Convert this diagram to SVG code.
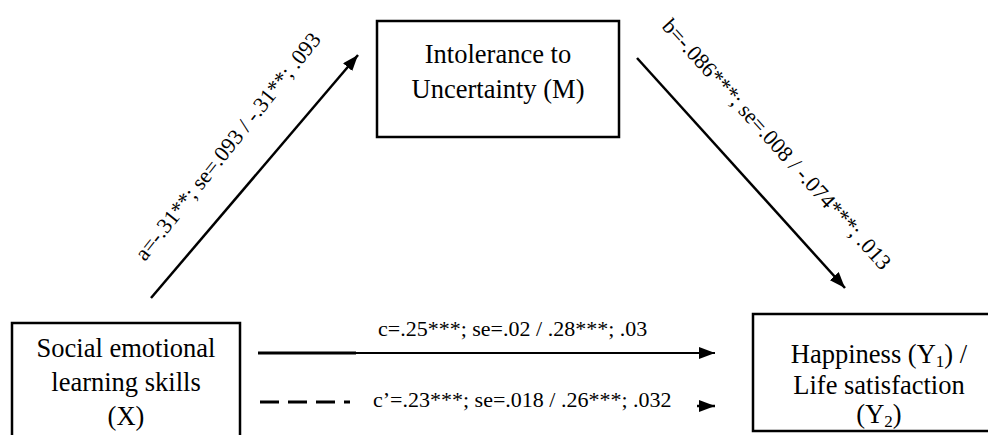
<svg xmlns="http://www.w3.org/2000/svg" width="988" height="435" viewBox="0 0 988 435">
<style>
.box{fill:#fff;stroke:#000;stroke-width:2.5}
.nt{font-family:"Liberation Serif","Times New Roman",serif;font-size:26.5px;fill:#000;text-anchor:middle}
.lb{font-family:"Liberation Serif","Times New Roman",serif;font-size:22px;fill:#000}
.ln{stroke:#000;fill:none}
</style>
<defs>
<marker id="ah" viewBox="0 0 16 12" refX="16" refY="6" markerWidth="16" markerHeight="12" markerUnits="userSpaceOnUse" orient="auto">
<path d="M0,0 L16,6 L0,12 z" fill="#000"/>
</marker>
</defs>
<rect width="988" height="435" fill="#fff"/>
<g id="node-M">
<rect class="box" x="377" y="21" width="242" height="116"/>
<text class="nt" x="498" y="63">Intolerance to</text>
<text class="nt" x="498" y="98">Uncertainty (M)</text>
</g>
<g id="node-X">
<rect class="box" x="12" y="323" width="228" height="130"/>
<text class="nt" x="126" y="357">Social emotional</text>
<text class="nt" x="126" y="391">learning skills</text>
<text class="nt" x="126" y="425">(X)</text>
</g>
<g id="node-Y">
<rect class="box" x="753" y="314" width="260" height="117"/>
<text class="nt" x="879" y="363">Happiness (Y<tspan font-size="17" dy="4">1</tspan><tspan dy="-4">) /</tspan></text>
<text class="nt" x="879" y="394">Life satisfaction</text>
<text class="nt" x="879" y="423">(Y<tspan font-size="17" dy="4">2</tspan><tspan dy="-4">)</tspan></text>
</g>
<g id="connectors">
<line class="ln" x1="151" y1="298" x2="358" y2="55" stroke-width="2.5" marker-end="url(#ah)"/>
<line class="ln" x1="637" y1="58" x2="845" y2="288" stroke-width="2.5" marker-end="url(#ah)"/>
<line class="ln" x1="258" y1="353" x2="356" y2="353" stroke-width="3"/>
<line class="ln" x1="355" y1="353" x2="715" y2="353" stroke-width="2" marker-end="url(#ah)"/>
<line class="ln" x1="260" y1="402" x2="350" y2="402" stroke-width="3" stroke-dasharray="19 9"/>
<line class="ln" x1="697" y1="406" x2="715" y2="406" stroke-width="2.5" marker-end="url(#ah)"/>
</g>
<g id="labels">
<text class="lb" transform="translate(145,262) rotate(-51.5)" font-size="21">a=-.31**; se=.093 / -.31**; .093</text>
<text class="lb" transform="translate(661,27) rotate(47.9)">b=-.086***; se=.008 / -.074***; .013</text>
<text class="lb" x="378" y="336">c=.25***; se=.02 / .28***; .03</text>
<text class="lb" x="373" y="407">c’=.23***; se=.018 / .26***; .032</text>
</g>
</svg>
